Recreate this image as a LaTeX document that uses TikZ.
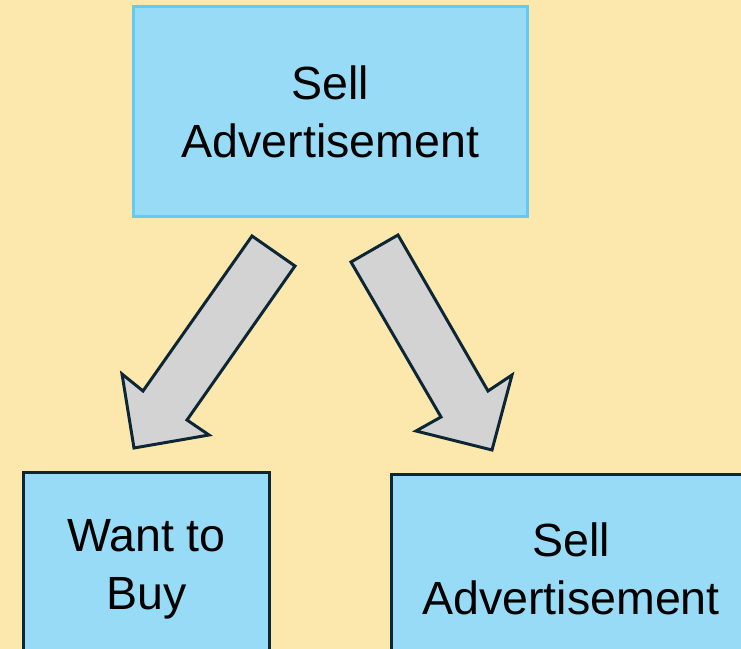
\documentclass[tikz,border=0pt]{standalone}
\usepackage{fontspec}
\setmainfont{Liberation Sans}
\definecolor{bgyellow}{HTML}{FCE8AD}
\definecolor{boxblue}{HTML}{97DBF7}
\definecolor{lightedge}{HTML}{62CBF2}
\definecolor{darkedge}{HTML}{0C2636}
\definecolor{arrowgray}{HTML}{D3D3D3}
\begin{document}
\begin{tikzpicture}[x=0.02cm, y=-0.02cm,
        box/.style={draw=darkedge, fill=boxblue, line width=1.7pt, align=center,
            font=\fontsize{26.5}{33}\selectfont, inner sep=0pt},
        blockarrow/.style={draw=darkedge, fill=arrowgray, line width=1.7pt, line join=miter}]
    \fill[bgyellow] (0,0) rectangle (741,649);
    \clip (0,0) rectangle (741,649);
    \node[box, draw=lightedge, minimum width=7.88cm, minimum height=4.2cm] (sell) at (330.5,111.5) {Sell\\Advertisement};
    \node[box, minimum width=4.92cm, minimum height=3.86cm] (want) at (146.5,569) {Want to\\Buy};
    \node[box, minimum width=7.18cm, minimum height=3.78cm] (sellagain) at (571,569) {Sell\\Advertisement};
    \draw[blockarrow] (252,236) -- (295,266) -- (187,420) -- (209,435) -- (134,448) -- (122,374) -- (143,391) -- cycle;
    \draw[blockarrow] (398,235) -- (351,262) -- (441,417) -- (416,431) -- (492,450) -- (512,375) -- (488,391) -- cycle;
\end{tikzpicture}
\end{document}
